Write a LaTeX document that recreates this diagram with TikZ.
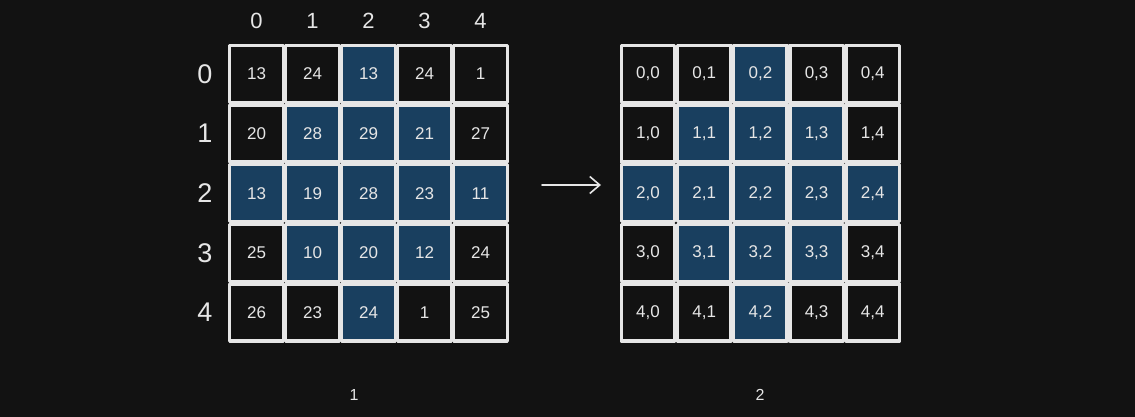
\documentclass[tikz,border=0pt]{standalone}
\usepackage{fontspec}
\setmainfont{Liberation Sans}
\usetikzlibrary{arrows.meta}
\definecolor{bg}{HTML}{121212}
\definecolor{cellblue}{HTML}{193F5F}
\definecolor{ink}{HTML}{E6E6E6}
\begin{document}
\begin{tikzpicture}[x=1pt,y=-1pt,
  cellbox/.style={draw=ink, line width=3.4pt, minimum width=53.5pt, minimum height=57pt,
    inner sep=0pt, text=ink, font=\fontsize{17}{17}\selectfont, line join=round},
  plain/.style={cellbox, fill=bg},
  hot/.style={cellbox, fill=cellblue},
  collabel/.style={text=ink, font=\fontsize{22}{22}\selectfont},
  rowlabel/.style={text=ink, font=\fontsize{27}{27}\selectfont},
  caption/.style={text=ink, font=\fontsize{16}{16}\selectfont}]
\fill[bg] (0,0) rectangle (1135,417);
\useasboundingbox (0,0) rectangle (1135,417);
% pass 1: plain cells
\foreach \r/\vals in {0/{13,24,13,24,1},1/{20,28,29,21,27},2/{13,19,28,23,11},3/{25,10,20,12,24},4/{26,23,24,1,25}}{
  \foreach \v [count=\cc from 0] in \vals {
    \pgfmathtruncatemacro\d{abs(\r-2)+abs(\cc-2)}
    \ifnum\d>2
      \node[plain] (a-\r-\cc) at ({256.5+56*\cc},{74+59.6*\r}) {\v};
      \node[plain] (b-\r-\cc) at ({648+56.2*\cc},{74+59.6*\r}) {\r,\cc};
    \fi
  }
}
% pass 2: highlighted cells
\foreach \r/\vals in {0/{13,24,13,24,1},1/{20,28,29,21,27},2/{13,19,28,23,11},3/{25,10,20,12,24},4/{26,23,24,1,25}}{
  \foreach \v [count=\cc from 0] in \vals {
    \pgfmathtruncatemacro\d{abs(\r-2)+abs(\cc-2)}
    \ifnum\d<3
      \node[hot] (a-\r-\cc) at ({256.5+56*\cc},{74+59.6*\r}) {\v};
      \node[hot] (b-\r-\cc) at ({648+56.2*\cc},{74+59.6*\r}) {\r,\cc};
    \fi
  }
}
% column and row labels
\foreach \i in {0,...,4}{
  \node[collabel] (col-\i) at ({256.5+56*\i},21) {\i};
  \node[rowlabel] (row-\i) at (205,{74+59.6*\i}) {\i};
}
% arrow
\coordinate (arrS) at (542,185);
\coordinate (arrE) at (601,185);
\draw[ink, line width=1.6pt, line cap=round, -{Straight Barb[length=10pt,width=17pt,line width=1.6pt]}] (arrS) -- (arrE);
% captions
\node[caption] (cap1) at (354,395) {1};
\node[caption] (cap2) at (760,395) {2};
\end{tikzpicture}
\end{document}
